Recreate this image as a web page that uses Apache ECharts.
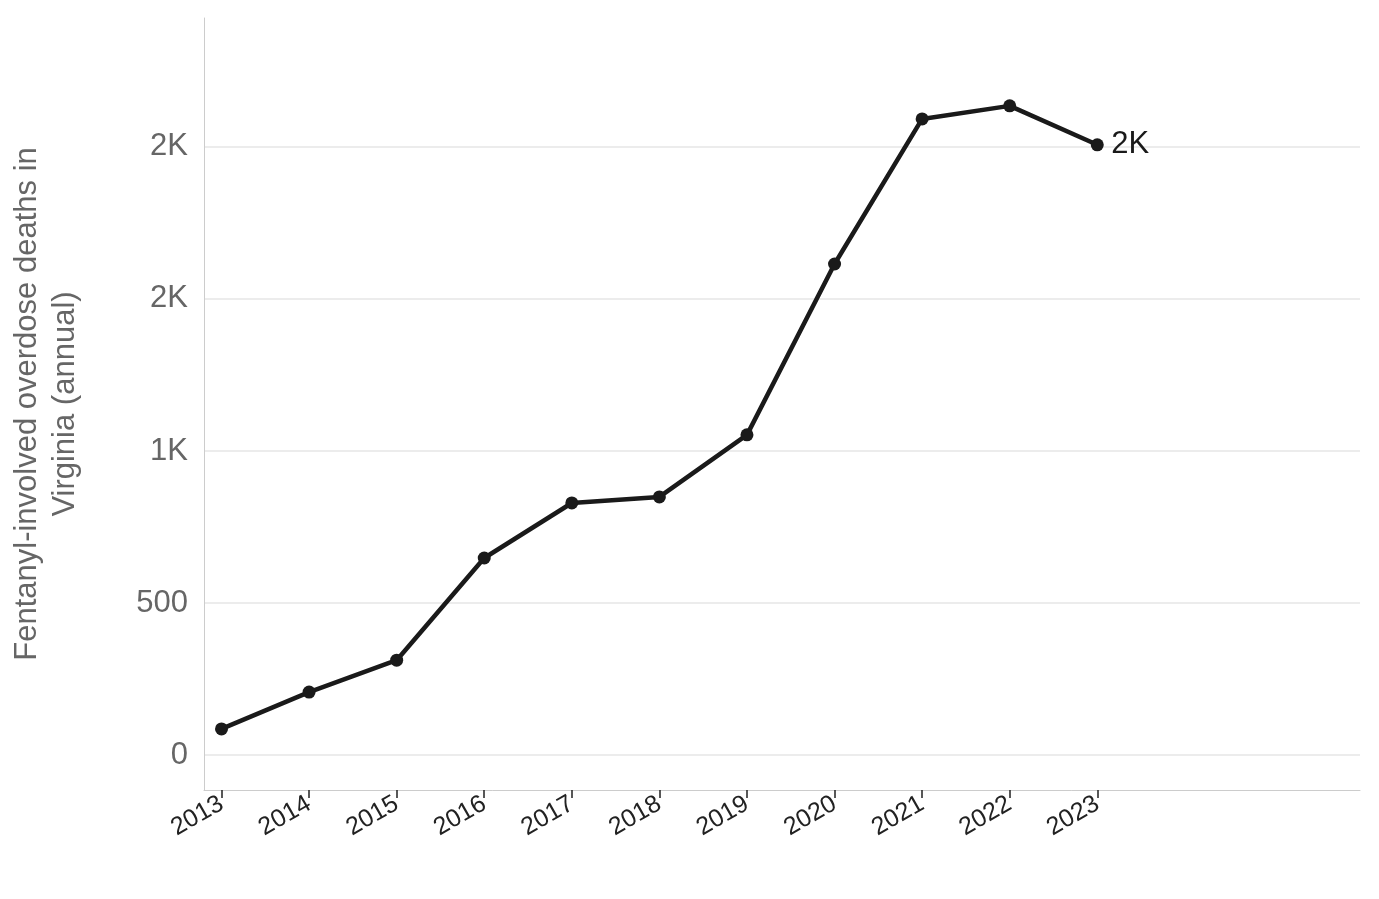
<!DOCTYPE html>
<html><head><meta charset="utf-8">
<script src="https://cdn.jsdelivr.net/npm/echarts@6/dist/echarts.min.js"></script>
<style>html,body{margin:0;padding:0}#c{width:1379px;height:899px}</style>
</head><body><div id="c"></div>
<script>
const years=[2013,2014,2015,2016,2017,2018,2019,2020,2021,2022,2023];
const deaths=[86,207,312,648,829,849,1053,1615,2092,2135,2007];
const yTicks=[0,500,1000,1500,2000];
const chart=echarts.init(document.getElementById('c'));
const fmt=v=>v>=1000?Math.round(v/1000)+'K':String(v);
chart.setOption({
 animation:false,
 grid:{left:203,right:19,top:18,bottom:109},
 xAxis:{type:'value',min:2012.8,max:2026,
  axisLine:{show:true,onZero:false,lineStyle:{color:'#ccc'}},
  axisTick:{show:true,customValues:years,length:8,lineStyle:{color:'#222',width:1.5}},
  axisLabel:{customValues:years,rotate:30,fontSize:25,color:'#222',fontFamily:'Liberation Sans',margin:12,formatter:v=>String(v)},
  splitLine:{show:false}},
 yAxis:{type:'value',min:-115,max:2424,
  name:'Fentanyl-involved overdose deaths in\nVirginia (annual)',nameLocation:'middle',nameGap:120,
  nameTextStyle:{fontSize:31,color:'#666',fontFamily:'Liberation Sans',lineHeight:38},
  axisLine:{show:true,onZero:false,lineStyle:{color:'#ccc'}},axisTick:{show:false},
  axisLabel:{customValues:yTicks,fontSize:31,color:'#666',fontFamily:'Liberation Sans',margin:16,formatter:fmt},
  splitLine:{show:false}},
 series:[{type:'line',data:years.map((y,i)=>[y,deaths[i]]),
  symbol:'circle',symbolSize:13,lineStyle:{color:'#1a1a1a',width:4.5},itemStyle:{color:'#1a1a1a'},
  markLine:{silent:true,symbol:'none',label:{show:false},lineStyle:{color:'#e6e6e6',width:1.5,type:'solid'},
   data:yTicks.map(v=>({yAxis:v})),z:0},
  endLabel:{show:true,formatter:p=>fmt(p.value[1]),fontSize:31,color:'#1a1a1a',fontFamily:'Liberation Sans',distance:14}
 }]
});
</script></body></html>
